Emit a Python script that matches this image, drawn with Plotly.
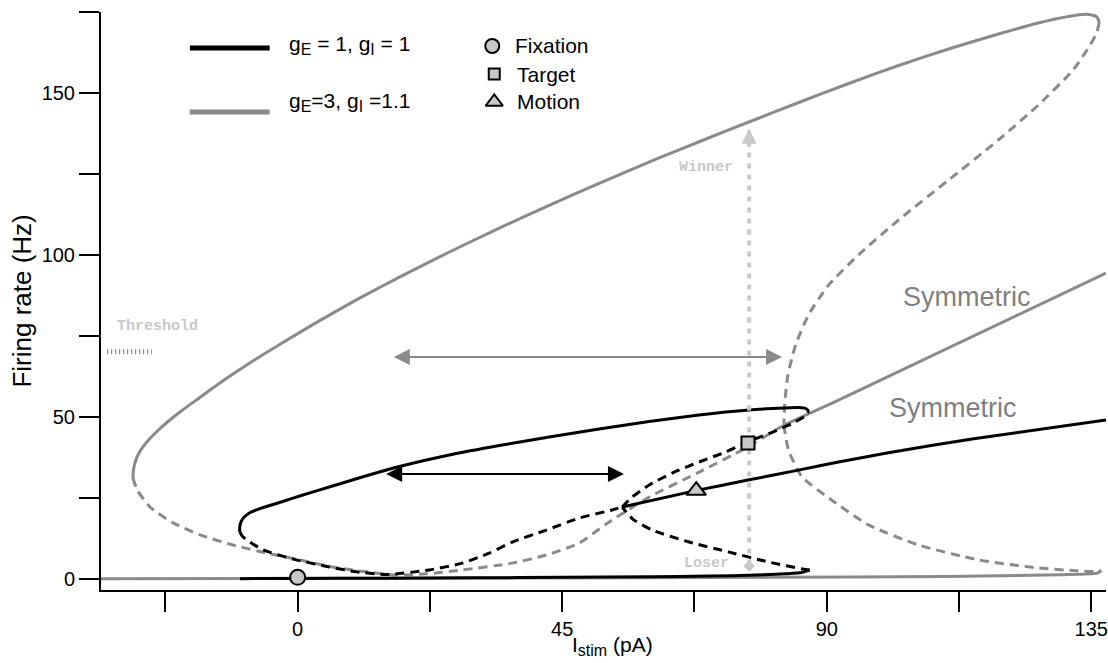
import plotly.graph_objects as go

BLACK = "#000000"
GRAY = "#8a8a8a"
LIGHT = "#c8c8c8"
TEXT_GRAY = "#7f7f7f"
FONT = "Liberation Sans, Arial, Helvetica, sans-serif"
MONO = "Liberation Mono, Courier New, monospace"

# ---------------- gE = 1, gI = 1 (black) ----------------
# low (spontaneous / loser) stable branch
blk_low_I = [-9.8, 0, 15, 30, 45, 60, 70, 78, 83, 85.8, 87.1]
blk_low_r = [0.1, 0.15, 0.25, 0.35, 0.5, 0.7, 0.9, 1.2, 1.6, 2.0, 2.8]
# unstable branch from the lower fold back to the pitchfork
blk_lowdash_I = [87.1, 86.4, 80.2, 73.4, 66.6, 60.3, 57.0, 55.2]
blk_lowdash_r = [2.8, 2.9, 5.2, 8.3, 11.4, 15.1, 18.5, 22.2]
# unstable branch from the pitchfork up to the upper fold
blk_updash_I = [55.2, 56.9, 59.8, 63.7, 68.3, 72.8, 76.4, 80.6, 84.0, 86.4, 86.94]
blk_updash_r = [22.2, 25.3, 29.0, 32.7, 36.1, 39.2, 42.2, 45.2, 47.9, 50.4, 51.85]
# winner stable branch (from the right fold back to the left fold)
blk_win_I = [86.94, 86.43, 85.24, 82.70, 76.75, 68.26, 59.77, 51.28, 42.79, 34.30, 25.81,
             17.32, 11.55, 5.94, 0.34, -2.55, -4.75, -6.6, -8.0, -9.0, -9.6, -9.85, -9.85]
blk_win_r = [51.85, 52.62, 52.93, 52.78, 52.16, 50.62, 48.61, 46.30, 43.83, 41.20, 38.27,
             34.72, 31.79, 28.70, 25.62, 23.92, 22.69, 21.6, 20.6, 19.3, 17.8, 16.0, 14.51]
# unstable branch from the left fold down and back up to the pitchfork
blk_mid_I = [-9.85, -9.3, -5.9, -0.2, 5.4, 10.0, 15.3, 22.4, 28.0, 32.6, 36.5, 42.3, 47.9, 53.5, 55.2]
blk_mid_r = [14.51, 13.0, 9.0, 5.9, 3.7, 2.2, 1.4, 2.8, 4.9, 8.0, 11.4, 15.1, 18.8, 21.3, 22.2]
# symmetric stable branch
blk_sym_I = [55.2, 68.3, 76.8, 85.2, 92.0, 100.0, 115.0, 137.5]
blk_sym_r = [22.2, 27.5, 30.6, 33.6, 36.1, 38.8, 43.3, 49.1]

# ---------------- gE = 3, gI = 1.1 (gray) ----------------
gry_win_I = [-28.02, -27.93, -27.68, -27.17, -26.32, -25.13, -23.77, -22.24, -20.03, -16.64,
             -13.24, -8.15, -3.06, 3.74, 10.53, 17.32, 25.81, 34.30, 42.79, 51.28, 61.47,
             69.45, 76.75, 85.24, 93.73, 102.22, 110.71, 119.21, 126.00, 131.09, 134.15,
             135.85, 136.36]
gry_win_r = [31.17, 33.64, 35.80, 38.27, 40.74, 43.36, 45.83, 48.30, 51.54, 56.02,
             60.49, 66.67, 72.38, 79.75, 86.67, 93.18, 100.93, 108.30, 115.34, 122.13, 129.94,
             135.80, 141.05, 147.07, 152.93, 158.49, 163.58, 168.21, 171.60, 173.61, 174.32,
             173.61, 171.91]
gry_updash_I = [136.36, 135.9, 134.8, 131.9, 126.0, 119.2, 110.7, 102.2, 95.4, 90.3, 86.9,
                84.7, 83.4, 82.9, 82.7]
gry_updash_r = [171.91, 168.5, 164.8, 157.1, 146.3, 135.5, 123.1, 110.8, 100.0, 90.7, 81.5,
                72.2, 63.0, 55.2, 47.5]
gry_lowdash_I = [82.7, 83.5, 85.8, 90.8, 97.1, 105.6, 115.8, 126.0, 132.8, 136.2, 136.7]
gry_lowdash_r = [47.5, 39.8, 31.5, 24.4, 16.7, 10.5, 5.9, 3.4, 2.5, 2.3, 2.6]
gry_low_I = [136.7, 136.0, 130.0, 110.0, 80.0, 40.0, 0.0, -33.5]
gry_low_r = [2.6, 1.8, 1.3, 0.8, 0.5, 0.3, 0.2, 0.1]
gry_mid_I = [-28.02, -27.3, -25.1, -21.2, -16.6, -11.0, -5.3, 0.3, 5.9, 11.7, 16.8, 22.0,
             28.0, 36.5, 42.3, 47.9, 52.5, 59.8, 68.3, 76.2, 82.7]
gry_mid_r = [31.17, 27.5, 22.2, 17.3, 13.6, 10.5, 8.0, 5.9, 3.7, 2.2, 1.2, 1.6,
             2.8, 4.9, 7.4, 11.1, 17.0, 25.3, 33.0, 40.4, 47.5]
gry_sym_I = [82.7, 92.0, 137.5]
gry_sym_r = [47.5, 55.2, 94.4]

# ---------------- labelled states ----------------
state_names = ["Fixation", "Target", "Motion"]
state_I = [0.0, 76.6, 67.8]
state_r = [0.5, 42.0, 27.3]
state_symbols = ["circle", "square", "triangle-up"]
state_sizes = [15, 13, 17]

# winner / loser transition and the two bistability ranges
wl_I = 76.8
wl_r = [4.5, 139.0]
range_gray_I = [16.1, 82.4]
range_gray_r = 68.5
range_black_I = [14.8, 55.5]
range_black_r = 32.4
threshold_I = [-32.4, -24.8]
threshold_r = 70.1

fig = go.Figure()


def curve(I, r, color, dashed=False, width=3):
    fig.add_trace(go.Scatter(
        x=I, y=r, mode="lines",
        line=dict(color=color, width=width, dash="9px,6px" if dashed else "solid",
                  shape="spline", smoothing=0.6),
        hoverinfo="skip", showlegend=False))


# gray system underneath
curve(gry_low_I, gry_low_r, GRAY)
curve(gry_win_I, gry_win_r, GRAY)
curve(gry_updash_I, gry_updash_r, GRAY, dashed=True)
curve(gry_lowdash_I, gry_lowdash_r, GRAY, dashed=True)
curve(gry_mid_I, gry_mid_r, GRAY, dashed=True)
curve(gry_sym_I, gry_sym_r, GRAY)

# black system on top
curve(blk_low_I, blk_low_r, BLACK)
curve(blk_lowdash_I, blk_lowdash_r, BLACK, dashed=True)
curve(blk_updash_I, blk_updash_r, BLACK, dashed=True)
curve(blk_win_I, blk_win_r, BLACK)
curve(blk_mid_I, blk_mid_r, BLACK, dashed=True)
curve(blk_sym_I, blk_sym_r, BLACK)

# threshold tick strip
fig.add_trace(go.Scatter(
    x=threshold_I, y=[threshold_r, threshold_r], mode="lines",
    line=dict(color="#777777", width=5, dash="1px,3px"),
    hoverinfo="skip", showlegend=False))

# loser -> winner dotted arrow
fig.add_trace(go.Scatter(
    x=[wl_I, wl_I], y=wl_r, mode="lines",
    line=dict(color=LIGHT, width=4, dash="5px,6px"),
    hoverinfo="skip", showlegend=False))
fig.add_trace(go.Scatter(
    x=[wl_I], y=[wl_r[0] - 0.5], mode="markers",
    marker=dict(symbol="diamond", size=9, color=LIGHT),
    hoverinfo="skip", showlegend=False))
fig.add_annotation(x=wl_I, y=wl_r[1], ax=wl_I, ay=wl_r[1] - 6, xref="x", yref="y",
                   axref="x", ayref="y", showarrow=True, arrowhead=2, arrowsize=1,
                   arrowwidth=3, arrowcolor=LIGHT, text="")

# bistability ranges
for (I0, I1), rr, col, w in [(range_gray_I, range_gray_r, GRAY, 2),
                             (range_black_I, range_black_r, BLACK, 2)]:
    fig.add_annotation(x=I1, y=rr, ax=I0, ay=rr, xref="x", yref="y", axref="x", ayref="y",
                       showarrow=True, arrowhead=2, arrowside="end+start", arrowsize=1.6,
                       arrowwidth=w, arrowcolor=col, text="", standoff=0, startstandoff=0)

# labelled states
for name, I, r, sym, sz in zip(state_names, state_I, state_r, state_symbols, state_sizes):
    fig.add_trace(go.Scatter(
        x=[I], y=[r], mode="markers", name=name,
        marker=dict(symbol=sym, size=sz, color=LIGHT, line=dict(color=BLACK, width=2)),
        hoverinfo="skip", showlegend=False))

# key (drawn on an overlay axis spanning the plotting area, 0..1)
key_state_x = [0.3893, 0.3913, 0.3913]
key_state_y = [0.9412, 0.8927, 0.8443]
key_state_sizes = [14, 11, 15]
for name, sym, sz, kx, ky in zip(state_names, state_symbols, key_state_sizes, key_state_x, key_state_y):
    fig.add_trace(go.Scatter(
        x=[kx], y=[ky], xaxis="x2", yaxis="y2", mode="markers",
        marker=dict(symbol=sym, size=sz, color=LIGHT, line=dict(color=BLACK, width=2)),
        hoverinfo="skip", showlegend=False))
    fig.add_annotation(x=kx + 0.021, y=ky, xref="paper", yref="paper", text=name,
                       showarrow=False, xanchor="left", yanchor="middle",
                       font=dict(family=FONT, size=21, color=BLACK))

SUB = "<sub><span style='font-size:16px'>{}</span></sub>"
key_lines = [("g" + SUB.format("E") + " = 1, g" + SUB.format("I") + " = 1", BLACK, 0.9377, 0.943),
             ("g" + SUB.format("E") + "=3, g" + SUB.format("I") + " =1.1", GRAY, 0.8270, 0.845)]
for label, col, ly, ty in key_lines:
    fig.add_shape(type="line", xref="paper", yref="paper", x0=0.0884, x1=0.1678,
                  y0=ly, y1=ly, line=dict(color=col, width=5))
    fig.add_annotation(x=0.1847, y=ty, xref="paper", yref="paper", text=label,
                       showarrow=False, xanchor="left", yanchor="middle",
                       font=dict(family=FONT, size=21, color=BLACK))

# text labels
fig.add_annotation(x=113.8, y=87.0, text="Symmetric", showarrow=False,
                   font=dict(family=FONT, size=27, color=TEXT_GRAY))
fig.add_annotation(x=111.4, y=52.8, text="Symmetric", showarrow=False,
                   font=dict(family=FONT, size=27, color=TEXT_GRAY))
fig.add_annotation(x=-23.8, y=77.8, text="<b>Threshold</b>", showarrow=False,
                   font=dict(family=MONO, size=15, color=LIGHT))
fig.add_annotation(x=69.5, y=126.9, text="<b>Winner</b>", showarrow=False,
                   font=dict(family=MONO, size=15, color=LIGHT))
fig.add_annotation(x=69.5, y=4.9, text="<b>Loser</b>", showarrow=False,
                   font=dict(family=MONO, size=15, color=LIGHT))

# axis titles
fig.add_annotation(x=-0.079, y=0.5, xref="paper", yref="paper", text="Firing rate (Hz)",
                   textangle=-90, showarrow=False, xanchor="center", yanchor="middle",
                   font=dict(family=FONT, size=26, color=BLACK))
fig.add_annotation(x=0.509, y=-0.097, xref="paper", yref="paper",
                   text="I" + SUB.format("stim") + " (pA)", showarrow=False,
                   xanchor="center", yanchor="middle",
                   font=dict(family=FONT, size=21, color=BLACK))

x_ticks = [-22.5, 0, 22.5, 45, 67.5, 90, 112.5, 135]
x_ticktext = ["", "0", "", "45", "", "90", "", "135"]
y_ticks = [0, 25, 50, 75, 100, 125, 150, 175]
y_ticktext = ["0", "", "50", "", "100", "", "150", ""]

fig.update_layout(
    width=1108, height=663,
    margin=dict(l=101, r=0, t=12, b=73),
    paper_bgcolor="white", plot_bgcolor="white",
    font=dict(family=FONT, color=BLACK),
    xaxis=dict(range=[-33.45, 137.5], showgrid=False, zeroline=False,
               showline=True, linecolor=BLACK, linewidth=2,
               ticks="outside", ticklen=20, tickwidth=2, tickcolor=BLACK,
               tickvals=x_ticks, ticktext=x_ticktext, ticklabeloverflow="allow",
               tickfont=dict(family=FONT, size=20, color=BLACK)),
    yaxis=dict(range=[-3.4, 175], showgrid=False, zeroline=False,
               showline=True, linecolor=BLACK, linewidth=2,
               ticks="outside", ticklen=20, tickwidth=2, tickcolor=BLACK,
               tickvals=y_ticks, ticktext=y_ticktext,
               tickfont=dict(family=FONT, size=20, color=BLACK)),
    xaxis2=dict(range=[0, 1], overlaying="x", visible=False, fixedrange=True),
    yaxis2=dict(range=[0, 1], overlaying="y", visible=False, fixedrange=True),
    showlegend=False,
)

fig.write_html("out.html")
